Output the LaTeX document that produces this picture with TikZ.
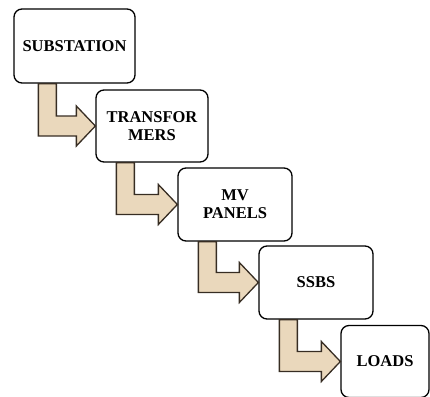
\documentclass[tikz,border=0pt]{standalone}
\usepackage{fontspec}
\setmainfont{Liberation Serif}
\usetikzlibrary{calc}

\definecolor{arrowfill}{RGB}{234,216,188}
\definecolor{arrowedge}{RGB}{55,45,35}

% bent block arrow from the bottom of one box to the left side of the next
\newcommand{\steparrow}[3]{%
  \coordinate (s) at ([xshift=#3pt]#1.south west);
  \coordinate (s2) at ([xshift=18pt]s);
  \coordinate (t1) at ([yshift=10pt]#2.west);
  \coordinate (t2) at ([yshift=-10pt]#2.west);
  \draw[bentarrow] (s) -- (s2) -- (s2 |- t1)
    -- ([xshift=-19pt,yshift=10pt]#2.west)
    -- ([xshift=-19pt,yshift=20pt]#2.west)
    -- (#2.west)
    -- ([xshift=-19pt,yshift=-20pt]#2.west)
    -- ([xshift=-19pt,yshift=-10pt]#2.west)
    -- (s |- t2) -- cycle;
}

\begin{document}
\begin{tikzpicture}[
    x=1pt, y=-1pt,
    box/.style={draw, rounded corners=8pt, line width=1.3pt, fill=white,
                align=center, inner sep=0pt,
                font=\fontsize{16.5}{18}\selectfont\bfseries},
    bentarrow/.style={line width=1.3pt, draw=arrowedge, fill=arrowfill,
                      line join=miter}
  ]
    \useasboundingbox (0,0) rectangle (430,396);

    \node[box, minimum width=121pt, minimum height=74pt] (sub)   at (74.5,46)  {SUBSTATION};
    \node[box, minimum width=112pt, minimum height=72pt] (trans) at (152,126)  {TRANSFOR\\MERS};
    \node[box, minimum width=114pt, minimum height=73pt] (mv)    at (235,204.5) {MV\\PANELS};
    \node[box, minimum width=114pt, minimum height=73pt] (ssbs)  at (316,282.5) {SSBS};
    \node[box, minimum width=88pt,  minimum height=72pt] (loads) at (385,361.5) {LOADS};

    \steparrow{sub}{trans}{25}
    \steparrow{trans}{mv}{21}
    \steparrow{mv}{ssbs}{21}
    \steparrow{ssbs}{loads}{21}
  \end{tikzpicture}
\end{document}
